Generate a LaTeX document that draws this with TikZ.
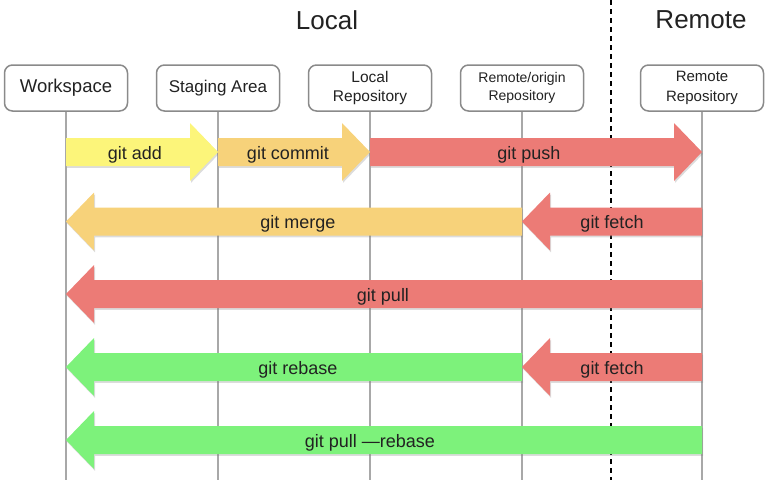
\documentclass[tikz,border=0pt]{standalone}
\usepackage{fontspec}
\setmainfont{Liberation Sans}
\usetikzlibrary{calc,shadows}
\definecolor{cyel}{HTML}{FCF57A}
\definecolor{corg}{HTML}{F7D27A}
\definecolor{cred}{HTML}{EC7B76}
\definecolor{cgrn}{HTML}{7DF27B}
\definecolor{boxgray}{HTML}{8A8A8A}
\definecolor{lifegray}{HTML}{A8A8A8}
\definecolor{txt}{HTML}{222222}
\newcommand{\fatarrow}[4]{% style, from, to, direction (1 right, -1 left)
  \fill[#1] ($(#2)+(0,-14)$) -- ($(#3)+(-28*#4,-14)$) -- ($(#3)+(-28*#4,-29)$) -- (#3)
    -- ($(#3)+(-28*#4,29)$) -- ($(#3)+(-28*#4,14)$) -- ($(#2)+(0,14)$) -- cycle;}
\begin{document}
\begin{tikzpicture}[x=1pt,y=-1pt,
  box/.style={draw=boxgray, line width=1.5pt, rounded corners=8pt, fill=white,
    minimum width=123pt, minimum height=46pt, align=center, inner sep=0pt, text=txt},
  life/.style={draw=lifegray, line width=1.5pt},
  sep/.style={draw=black, line width=2pt, dash pattern=on 5pt off 4pt},
  lbl/.style={font=\fontsize{18}{20}\selectfont, text=txt, yshift=-2.5pt},
  ttl/.style={font=\fontsize{26}{28}\selectfont, text=txt},
  fat/.style={fill=#1, drop shadow={shadow xshift=1pt, shadow yshift=-1.8pt, opacity=0.28}}]
\useasboundingbox (0,0) rectangle (770,480);

% titles
\node[ttl] (tloc) at (327,20) {Local};
\node[ttl] (trem) at (701,20) {Remote};

% separator (under the arrows)
\coordinate (dtop) at (611,0);
\coordinate (dbot) at (611,480);
\draw[sep] (dtop) -- (dbot);

% boxes
\node[box, font=\fontsize{18.5}{20}\selectfont] (ws) at (66,88) {Workspace};
\node[box, font=\fontsize{17}{18}\selectfont] (sa) at (218,88) {Staging Area};
\node[box, font=\fontsize{15.5}{19.5}\selectfont] (lr) at (370,88) {Local\\Repository};
\node[box, font=\fontsize{14}{18}\selectfont] (ro) at (522,88) {Remote/origin\\Repository};
\node[box, font=\fontsize{15}{19.5}\selectfont] (rr) at (702,88) {Remote\\Repository};

% lifelines
\foreach \n in {ws,sa,lr,ro,rr}{
  \coordinate (\n end) at (\n.south |- 0,480);
  \draw[life] (\n.south) -- (\n end);
  \coordinate (\n1) at (\n.south |- 0,152);
  \coordinate (\n2) at (\n.south |- 0,221.5);
  \coordinate (\n3) at (\n.south |- 0,294);
  \coordinate (\n4) at (\n.south |- 0,367);
  \coordinate (\n5) at (\n.south |- 0,440);
}

% row 1
\fatarrow{fat=cyel}{ws1}{sa1}{1}
\fatarrow{fat=corg}{sa1}{lr1}{1}
\fatarrow{fat=cred}{lr1}{rr1}{1}
\node[lbl] (ladd) at (135,152) {git add};
\node[lbl] (lcom) at (288,152) {git commit};
\node[lbl] (lpush) at (529,152) {git push};

% row 2
\fatarrow{fat=corg}{ro2}{ws2}{-1}
\fatarrow{fat=cred}{rr2}{ro2}{-1}
\node[lbl] (lmerge) at (298,221.5) {git merge};
\node[lbl] (lfetch1) at (612,221.5) {git fetch};

% row 3
\fatarrow{fat=cred}{rr3}{ws3}{-1}
\node[lbl] (lpull) at (383,294) {git pull};

% row 4
\fatarrow{fat=cgrn}{ro4}{ws4}{-1}
\fatarrow{fat=cred}{rr4}{ro4}{-1}
\node[lbl] (lreb) at (298,367) {git rebase};
\node[lbl] (lfetch2) at (612,367) {git fetch};

% row 5
\fatarrow{fat=cgrn}{rr5}{ws5}{-1}
\node[lbl] (lpr) at (370,440) {git pull —rebase};
\end{tikzpicture}
\end{document}
